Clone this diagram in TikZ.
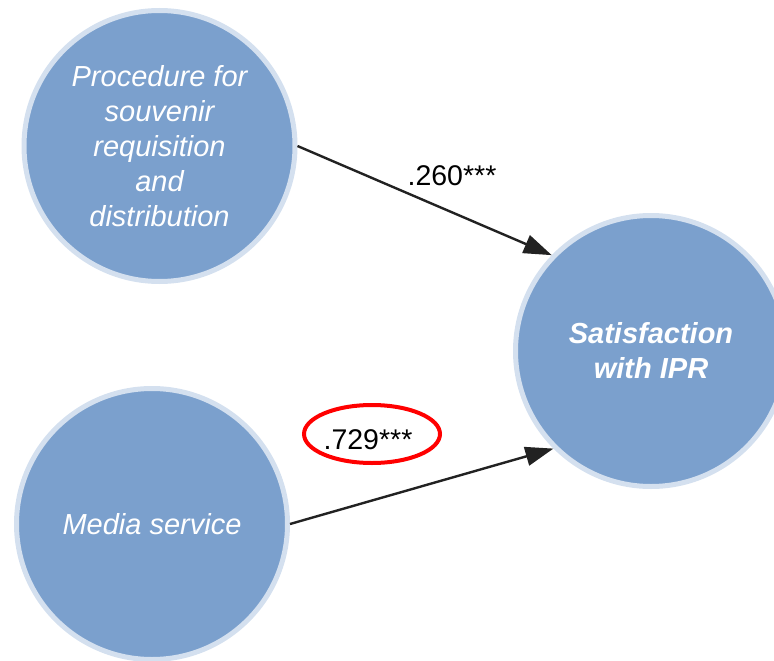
\documentclass[tikz,border=0pt]{standalone}
\usepackage{fontspec}
\setmainfont{Liberation Sans}
\usetikzlibrary{arrows.meta,shapes.geometric}
\definecolor{nodefill}{RGB}{123,160,205}
\definecolor{nodeedge}{RGB}{212,224,239}
\definecolor{arrowcol}{RGB}{34,34,34}
\tikzset{
  latent/.style={circle, fill=nodefill, draw=nodeedge, line width=5pt,
    minimum size=271pt, inner sep=0pt, text=white, align=center,
    font=\fontsize{29}{35}\selectfont\itshape},
  path/.style={draw=arrowcol, line width=2.4pt,
    -{Triangle[length=28pt,width=19pt]}},
  coef/.style={font=\fontsize{28.5}{34}\selectfont, text=black, inner sep=0pt},
  mark ring/.style={ellipse, draw=red, line width=4pt, minimum width=136pt,
    minimum height=58pt, inner sep=0pt}
}
\begin{document}
\begin{tikzpicture}[x=1pt,y=-1pt]
  \useasboundingbox (0,0) rectangle (774,661);
  \node[latent] (proc) at (159.5,146) {Procedure for\\souvenir\\requisition\\and\\distribution};
  \node[latent] (media) at (152,524) {Media service};
  \node[latent, font=\fontsize{29}{35}\selectfont\bfseries\itshape] (sat) at (651,351) {Satisfaction\\with IPR};
  \draw[path] (proc.east) -- (sat.136);
  \draw[path] (media.east) -- (sat.225);
  \node[coef] (c1) at (452,176) {.260***};
  \node[mark ring] (ring) at (372,434) {};
  \node[coef] (c2) at (368,440) {.729***};
\end{tikzpicture}
\end{document}
